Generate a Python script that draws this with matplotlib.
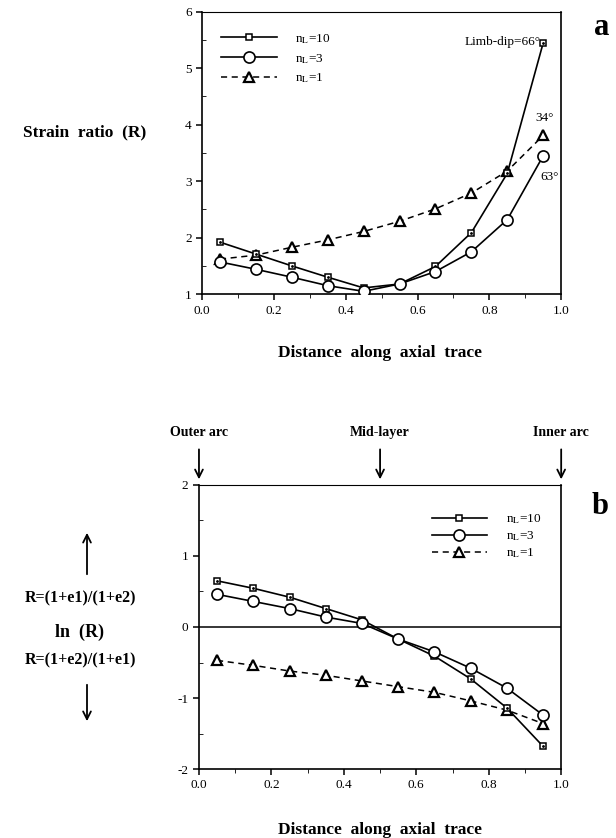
import matplotlib
matplotlib.use("Agg")
import matplotlib.pyplot as plt
from matplotlib.ticker import MultipleLocator
from matplotlib.lines import Line2D

plt.rcParams["font.family"] = ["Liberation Serif", "DejaVu Serif"]
plt.rcParams["mathtext.fontset"] = "stix"

# distance along axial trace (layer mid-points)
dist = [0.05, 0.15, 0.25, 0.35, 0.45, 0.55, 0.65, 0.75, 0.85, 0.95]

# (a) strain ratio R
r_nl10 = [1.92, 1.71, 1.50, 1.30, 1.11, 1.18, 1.49, 2.09, 3.14, 5.45]
r_nl3 = [1.57, 1.44, 1.30, 1.15, 1.05, 1.18, 1.40, 1.75, 2.32, 3.45]
r_nl1 = [1.62, 1.69, 1.83, 1.96, 2.11, 2.29, 2.51, 2.79, 3.18, 3.81]

# (b) signed ln(R)
ln_nl10 = [0.65, 0.545, 0.42, 0.26, 0.10, -0.17, -0.41, -0.73, -1.14, -1.68]
ln_nl3 = [0.46, 0.36, 0.26, 0.14, 0.05, -0.17, -0.35, -0.58, -0.86, -1.24]
ln_nl1 = [-0.47, -0.54, -0.62, -0.68, -0.76, -0.84, -0.92, -1.04, -1.17, -1.36]

labels = [r"n$_{\rm L}$=10", r"n$_{\rm L}$=3", r"n$_{\rm L}$=1"]
arc_pos = [0.0, 0.5, 1.0]
arc_names = ["Outer arc", "Mid-layer", "Inner arc"]

SQ = dict(marker="s", ms=5, mfc="white", mec="black", mew=1.1)
CI = dict(marker="o", ms=8, mfc="white", mec="black", mew=1.2)
TR = dict(marker="^", ms=6.5, mfc="white", mec="black", mew=1.6)


def draw_series(ax, y10, y3, y1):
    ax.plot(dist, y1, color="black", lw=1.1, ls=(0, (4, 3)), **TR, zorder=3)
    ax.plot(dist, y10, color="black", lw=1.2, **SQ, zorder=4)
    ax.plot(dist, y10, ls="none", marker=".", ms=2, color="black", zorder=5)
    ax.plot(dist, y3, color="black", lw=1.2, **CI, zorder=6)


def legend_handles():
    return [
        Line2D([], [], color="black", lw=1.2, **SQ),
        Line2D([], [], color="black", lw=1.2, **CI),
        Line2D([], [], color="black", lw=1.1, ls=(0, (4, 3)), **TR),
    ]


def style_axes(ax, ymajor, yminor):
    ax.set_xlim(0, 1)
    ax.xaxis.set_major_locator(MultipleLocator(0.2))
    ax.xaxis.set_minor_locator(MultipleLocator(0.1))
    ax.yaxis.set_major_locator(MultipleLocator(ymajor))
    ax.yaxis.set_minor_locator(MultipleLocator(yminor))
    ax.xaxis.set_major_formatter(lambda v, p: f"{v:.1f}")
    ax.yaxis.set_major_formatter(lambda v, p: f"{v:.0f}")
    ax.tick_params(which="major", direction="out", length=4, width=1.1,
                   labelsize=9.5)
    ax.tick_params(axis="x", which="minor", direction="out", length=3)
    ax.tick_params(axis="y", which="minor", direction="in", length=3)
    for s in ax.spines.values():
        s.set_linewidth(1.2)
    ax.spines["top"].set_linewidth(0.8)


fig = plt.figure(figsize=(6.16, 8.38), dpi=100)

# ---- (a) strain ratio ----
ax1 = fig.add_axes([0.328, 0.649, 0.583, 0.337])
draw_series(ax1, r_nl10, r_nl3, r_nl1)
style_axes(ax1, 1, 0.5)
ax1.set_ylim(1, 6)
ax1.legend(legend_handles(), labels, loc="upper left",
           bbox_to_anchor=(0.02, 0.97), frameon=False, fontsize=9.5,
           handlelength=4.2, handletextpad=1.4, labelspacing=0.45)
ax1.text(0.942, 5.47, "Limb-dip=66°", ha="right", va="center", fontsize=9.5)
ax1.text(0.953, 4.12, "34°", ha="center", va="center", fontsize=9.5)
ax1.text(0.967, 3.08, "63°", ha="center", va="center", fontsize=9.5)
ax1.text(1.112, 0.945, "a", transform=ax1.transAxes, fontsize=22,
         fontweight="bold", ha="center", va="center")
fig.text(85 / 616, 1 - 132 / 838, "Strain  ratio  (R)", ha="center",
         va="center", fontsize=12.5, fontweight="bold")
fig.text(380 / 616, 1 - 353 / 838, "Distance  along  axial  trace",
         ha="center", va="center", fontsize=12.5, fontweight="bold")

# ---- (b) ln(R) ----
ax2 = fig.add_axes([0.323, 0.0823, 0.588, 0.339])
ax2.axhline(0, color="black", lw=1.1, zorder=2)
draw_series(ax2, ln_nl10, ln_nl3, ln_nl1)
style_axes(ax2, 1, 0.5)
ax2.set_ylim(-2, 2)
ax2.legend(legend_handles(), labels, loc="upper left",
           bbox_to_anchor=(0.61, 0.946), frameon=False, fontsize=9.5,
           handlelength=4.2, handletextpad=1.4, labelspacing=0.25)
ax2.text(1.108, 0.923, "b", transform=ax2.transAxes, fontsize=22,
         fontweight="bold", ha="center", va="center")

for xp, name in zip(arc_pos, arc_names):
    ax2.annotate("", xy=(xp, 1.01), xycoords=("data", "axes fraction"),
                 xytext=(xp, 1.135), textcoords=("data", "axes fraction"),
                 arrowprops=dict(arrowstyle="->", lw=1.3, color="black",
                                 mutation_scale=14))
    ax2.text(xp, 1.183, name, transform=ax2.get_xaxis_transform(),
             ha="center", va="center", fontsize=10, fontweight="bold")

fig.text(380 / 616, 1 - 830 / 838, "Distance  along  axial  trace",
         ha="center", va="center", fontsize=12.5, fontweight="bold")

fx = 87 / 616
fig.text(80 / 616, 1 - 598 / 838, "R=(1+e1)/(1+e2)", ha="center",
         va="center", fontsize=11.5, fontweight="bold")
fig.text(80 / 616, 1 - 632 / 838, "ln  (R)", ha="center", va="center",
         fontsize=13, fontweight="bold")
fig.text(80 / 616, 1 - 660 / 838, "R=(1+e2)/(1+e1)", ha="center",
         va="center", fontsize=11.5, fontweight="bold")
fig.add_artist(matplotlib.patches.FancyArrowPatch(
    (fx, 1 - 577 / 838), (fx, 1 - 530 / 838), transform=fig.transFigure,
    arrowstyle="->", mutation_scale=14, lw=1.3, color="black"))
fig.add_artist(matplotlib.patches.FancyArrowPatch(
    (fx, 1 - 682 / 838), (fx, 1 - 724 / 838), transform=fig.transFigure,
    arrowstyle="->", mutation_scale=14, lw=1.3, color="black"))

fig.savefig("out.png", dpi=100)
